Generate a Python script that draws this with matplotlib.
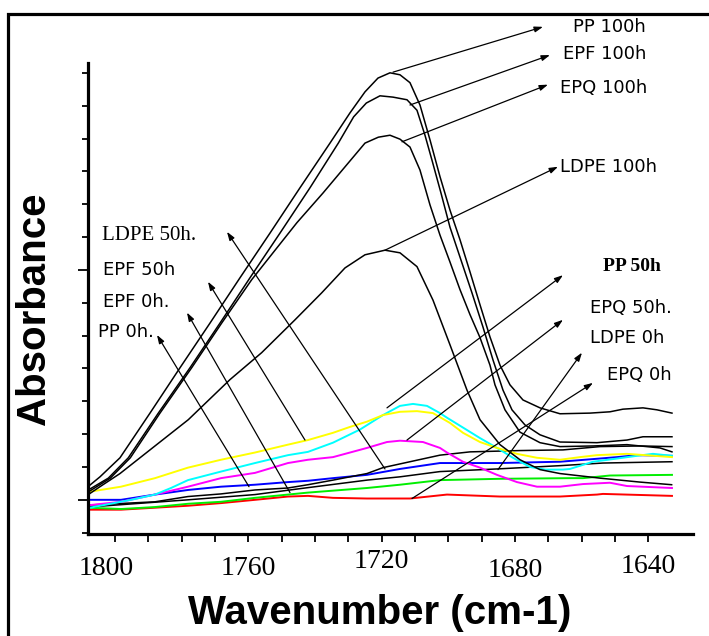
import matplotlib
matplotlib.use("Agg")
import matplotlib.pyplot as plt
import matplotlib.patches as mpatches
from matplotlib.transforms import ScaledTranslation
import numpy as np

# ---- carbonyl region spectra: wavenumber (cm-1) / absorbance ----
pp100_wn = [1808.1, 1804.5, 1798.5, 1789.5, 1780.5, 1771.5, 1762.5, 1753.5, 1744.5, 1735.5,
            1729.5, 1725.0, 1721.1, 1717.5, 1714.5, 1711.5, 1708.5, 1705.5, 1702.5, 1699.5,
            1696.5, 1693.5, 1690.5, 1687.5, 1684.5, 1681.5, 1677.6, 1672.5, 1666.5, 1657.5,
            1651.5, 1647.6, 1641.6, 1637.4, 1632.9]
pp100_a = [0.020, 0.035, 0.064, 0.132, 0.201, 0.269, 0.338, 0.406, 0.475, 0.543,
           0.589, 0.621, 0.642, 0.650, 0.647, 0.635, 0.601, 0.548, 0.492, 0.441,
           0.396, 0.347, 0.297, 0.248, 0.205, 0.175, 0.152, 0.140, 0.131, 0.132,
           0.134, 0.138, 0.140, 0.137, 0.132]

epf100_wn = [1808.0, 1802.0, 1796.0, 1787.0, 1777.5, 1768.5, 1759.5, 1750.5, 1741.5, 1733.0,
             1728.4, 1724.6, 1720.5, 1716.6, 1712.4, 1709.4, 1707.0, 1704.9, 1702.2, 1699.5,
             1696.2, 1692.9, 1689.6, 1686.6, 1683.6, 1680.9, 1677.0, 1672.5, 1666.5, 1655.4,
             1646.4, 1641.6, 1632.9]
epf100_a = [0.015, 0.033, 0.064, 0.132, 0.201, 0.269, 0.338, 0.406, 0.475, 0.543,
            0.583, 0.604, 0.615, 0.613, 0.609, 0.593, 0.555, 0.517, 0.467, 0.415,
            0.365, 0.315, 0.263, 0.213, 0.167, 0.137, 0.114, 0.099, 0.088, 0.087,
            0.091, 0.096, 0.096]

epq100_wn = [1808.0, 1801.4, 1795.4, 1786.5, 1777.0, 1768.0, 1759.0, 1752.6, 1745.4, 1737.6,
             1731.8, 1725.0, 1721.0, 1717.5, 1714.5, 1711.5, 1708.5, 1705.5, 1702.5, 1699.5,
             1696.5, 1693.5, 1690.5, 1687.5, 1686.0, 1683.0, 1678.5, 1672.5, 1666.5, 1656.6,
             1646.4, 1636.5, 1632.9]
epq100_a = [0.012, 0.033, 0.064, 0.132, 0.201, 0.269, 0.335, 0.376, 0.422, 0.467,
            0.502, 0.543, 0.552, 0.555, 0.549, 0.537, 0.502, 0.449, 0.403, 0.362,
            0.320, 0.282, 0.247, 0.205, 0.175, 0.137, 0.103, 0.087, 0.081, 0.082,
            0.084, 0.079, 0.073]

ldpe100_wn = [1808.0, 1804.5, 1798.5, 1789.5, 1778.0, 1765.5, 1756.0, 1746.0, 1738.0, 1731.0,
              1725.0, 1719.0, 1714.5, 1709.4, 1704.6, 1699.5, 1694.4, 1690.5, 1684.5, 1678.5,
              1672.5, 1666.5, 1654.5, 1642.5, 1633.0]
ldpe100_a = [0.008, 0.020, 0.040, 0.076, 0.122, 0.183, 0.224, 0.274, 0.315, 0.353,
             0.373, 0.380, 0.376, 0.355, 0.304, 0.236, 0.167, 0.122, 0.084, 0.061,
             0.046, 0.040, 0.033, 0.027, 0.023]

epf50_wn = [1808.0, 1798.2, 1788.0, 1778.1, 1768.2, 1758.0, 1748.1, 1742.1, 1734.6, 1729.5,
            1724.4, 1719.6, 1714.5, 1709.4, 1704.6, 1699.5, 1695.6, 1690.5, 1685.4, 1679.4,
            1673.4, 1666.5, 1660.5, 1655.4, 1646.4, 1632.9]
epf50_a = [0.012, 0.020, 0.033, 0.049, 0.061, 0.072, 0.084, 0.091, 0.102, 0.111,
           0.119, 0.129, 0.134, 0.135, 0.132, 0.117, 0.102, 0.088, 0.079, 0.070,
           0.064, 0.061, 0.065, 0.068, 0.070, 0.065]

pp50_wn = [1807.5, 1795.2, 1788.0, 1783.2, 1778.1, 1768.2, 1758.0, 1748.1, 1742.1, 1734.6,
           1726.5, 1719.6, 1714.5, 1710.6, 1706.4, 1702.5, 1700.4, 1695.6, 1690.5, 1685.4,
           1680.6, 1675.5, 1671.0, 1665.6, 1663.5, 1656.6, 1650.6, 1643.4, 1638.6, 1632.9]
pp50_a = [-0.012, 0.000, 0.008, 0.018, 0.030, 0.043, 0.056, 0.068, 0.073, 0.087,
          0.107, 0.129, 0.143, 0.146, 0.143, 0.132, 0.125, 0.110, 0.094, 0.079,
          0.064, 0.050, 0.046, 0.046, 0.047, 0.058, 0.062, 0.067, 0.070, 0.067]

epq50_wn = [1807.5, 1798.2, 1788.0, 1778.1, 1768.2, 1758.0, 1748.1, 1742.1, 1734.6, 1724.4,
            1718.4, 1714.5, 1707.6, 1702.5, 1700.4, 1695.6, 1690.5, 1685.4, 1679.4, 1673.4,
            1666.5, 1659.6, 1651.5, 1646.4, 1632.9]
epq50_a = [-0.008, -0.003, 0.008, 0.020, 0.033, 0.041, 0.056, 0.061, 0.065, 0.079,
           0.088, 0.090, 0.088, 0.079, 0.072, 0.058, 0.049, 0.038, 0.027, 0.020,
           0.020, 0.024, 0.026, 0.021, 0.018]

ldpe50_wn = [1808.0, 1788.0, 1778.1, 1768.2, 1758.0, 1748.1, 1742.1, 1734.6, 1724.4, 1719.6,
             1711.5, 1702.5, 1693.5, 1678.5, 1665.6, 1654.5, 1642.5, 1632.9]
ldpe50_a = [-0.008, -0.003, 0.005, 0.009, 0.015, 0.018, 0.023, 0.030, 0.040, 0.049,
            0.058, 0.068, 0.073, 0.075, 0.076, 0.081, 0.082, 0.081]

pp0_wn = [1808.0, 1798.2, 1788.0, 1778.1, 1768.2, 1758.0, 1748.1, 1742.1, 1734.6, 1724.4,
          1714.5, 1702.5, 1684.5, 1666.5, 1656.6, 1649.4, 1643.4, 1632.9]
pp0_a = [0.000, 0.000, 0.008, 0.015, 0.020, 0.023, 0.027, 0.029, 0.033, 0.038,
         0.047, 0.056, 0.056, 0.058, 0.062, 0.065, 0.068, 0.067]

ldpe0_wn = [1808.0, 1778.1, 1758.0, 1744.5, 1724.4, 1714.5, 1702.5, 1685.4, 1666.5, 1653.6, 1632.9]
ldpe0_a = [-0.011, 0.000, 0.008, 0.017, 0.030, 0.035, 0.043, 0.047, 0.052, 0.056, 0.058]

epf0_wn = [1808.0, 1798.2, 1788.0, 1778.1, 1768.2, 1758.0, 1748.1, 1742.1, 1724.4, 1714.5,
           1702.5, 1684.5, 1663.5, 1659.6, 1651.5, 1632.9]
epf0_a = [-0.012, -0.014, -0.011, -0.006, -0.003, 0.003, 0.008, 0.011, 0.018, 0.023,
          0.030, 0.032, 0.033, 0.033, 0.037, 0.038]

epq0_wn = [1808.0, 1798.2, 1788.0, 1778.1, 1768.2, 1758.0, 1748.1, 1742.1, 1734.6, 1724.4,
           1711.5, 1700.4, 1684.5, 1666.5, 1655.4, 1653.6, 1632.9]
epq0_a = [-0.015, -0.015, -0.012, -0.009, -0.005, 0.000, 0.005, 0.006, 0.003, 0.002,
          0.002, 0.008, 0.005, 0.005, 0.008, 0.009, 0.006]

# (wavenumbers, absorbance, colour, line width)
curves = [
    (epq0_wn, epq0_a, "#ff0000", 1.4),
    (epf0_wn, epf0_a, "#00ee00", 1.4),
    (ldpe0_wn, ldpe0_a, "black", 1.1),
    (pp0_wn, pp0_a, "#0000ff", 1.4),
    (ldpe50_wn, ldpe50_a, "black", 1.1),
    (epq50_wn, epq50_a, "#ff00ff", 1.4),
    (pp50_wn, pp50_a, "#00ffff", 1.4),
    (epf50_wn, epf50_a, "#ffff00", 1.4),
    (ldpe100_wn, ldpe100_a, "black", 1.1),
    (epq100_wn, epq100_a, "black", 1.1),
    (epf100_wn, epf100_a, "black", 1.1),
    (pp100_wn, pp100_a, "black", 1.1),
]

# label text, text anchor, arrow tail (on curve), arrow head, font family, weight, size
labels = [
    ("PP 100h",   (1662.6, 0.720), (1716.6, 0.651), (1671.6, 0.720), "DejaVu Sans", "normal", 13),
    ("EPF 100h",  (1665.6, 0.679), (1711.5, 0.601), (1669.5, 0.677), "DejaVu Sans", "normal", 13),
    ("EPQ 100h",  (1666.5, 0.627), (1713.9, 0.545), (1670.1, 0.632), "DejaVu Sans", "normal", 13),
    ("LDPE 100h", (1666.5, 0.507), (1719.0, 0.380), (1667.1, 0.507), "DejaVu Sans", "normal", 13),
    ("PP 50h",    (1653.6, 0.355), (1718.4, 0.140), (1665.6, 0.342), "Liberation Serif", "bold", 14),
    ("EPQ 50h.",  (1657.5, 0.292), (1712.4, 0.091), (1665.6, 0.274), "DejaVu Sans", "normal", 13),
    ("LDPE 0h",   (1657.5, 0.247), (1685.1, 0.046), (1659.9, 0.224), "DejaVu Sans", "normal", 13),
    ("EPQ 0h",    (1652.4, 0.190), (1710.9, 0.002), (1656.6, 0.178), "DejaVu Sans", "normal", 13),
    ("LDPE 50h.", (1803.9, 0.403), (1719.0, 0.047), (1766.4, 0.408), "Liberation Serif", "normal", 15),
    ("EPF 50h",   (1803.6, 0.350), (1743.0, 0.091), (1772.1, 0.332), "DejaVu Sans", "normal", 13),
    ("EPF 0h.",   (1803.6, 0.301), (1747.5, 0.011), (1778.4, 0.285), "DejaVu Sans", "normal", 13),
    ("PP 0h.",    (1805.1, 0.256), (1759.8, 0.020), (1787.4, 0.251), "DejaVu Sans", "normal", 13),
]

tick_pos = [1800, 1760, 1720, 1680, 1640]
tick_text = ["1800", "1760", "1720", "1680", "1640"]
# small hand-set shifts of the tick numbers (points, x / y)
tick_shift = [(-6, 0), (0, 0), (0, 5), (0, -1), (0, 1.5)]

fig = plt.figure(figsize=(7.09, 6.36), dpi=100)
ax = fig.add_axes([0.1241, 0.1604, 0.8533, 0.7406])

for wn, a, c, lw in curves:
    ax.plot(wn, a, color=c, lw=lw)

for text, txy, tail, head, fam, wt, fs in labels:
    ax.annotate("", xy=head, xytext=tail, annotation_clip=False,
                arrowprops=dict(arrowstyle="-|>,head_length=0.5,head_width=0.17",
                                color="black", lw=0.9, shrinkA=0, shrinkB=0))
    ax.text(txy[0], txy[1], text, fontsize=fs, family=fam, weight=wt,
            ha="left", va="center", clip_on=False)

ax.set_xlim(1808.1, 1626.6)
ax.set_ylim(-0.052, 0.665)
for s in ["top", "right"]:
    ax.spines[s].set_visible(False)
for s in ["left", "bottom"]:
    ax.spines[s].set_linewidth(2.3)

ax.set_xticks(tick_pos)
ax.set_xticks(np.arange(1640, 1801, 10), minor=True)
ax.set_xticklabels(tick_text, family="Liberation Serif", fontsize=20)
ax.tick_params(axis="x", which="both", direction="out", length=6, width=1.3, pad=10)
for lbl, (dx, dy) in zip(ax.get_xticklabels(), tick_shift):
    lbl.set_transform(lbl.get_transform() + ScaledTranslation(dx / 72, dy / 72, fig.dpi_scale_trans))

ax.set_yticks([0, 0.35])
ax.set_yticks(np.arange(-0.05, 0.66, 0.05), minor=True)
ax.set_yticklabels([])
ax.tick_params(axis="y", which="major", direction="out", length=7, width=1.3)
ax.tick_params(axis="y", which="minor", direction="out", length=4, width=1.3)

fig.text(34 / 709, 1 - 309 / 636, "Absorbance", rotation=90, fontsize=29,
         family="Liberation Sans", weight="bold", ha="center", va="center")
fig.text(380 / 709, 1 - 613 / 636, "Wavenumber (cm-1)", fontsize=29,
         family="Liberation Sans", weight="bold", ha="center", va="center")

# outer frame, runs off the right and bottom edges
fig.add_artist(mpatches.Rectangle((8 / 709, -0.05), 1.1, 1.028, transform=fig.transFigure,
                                  fill=False, lw=2.3, ec="black"))

fig.savefig("out.png", dpi=100)
